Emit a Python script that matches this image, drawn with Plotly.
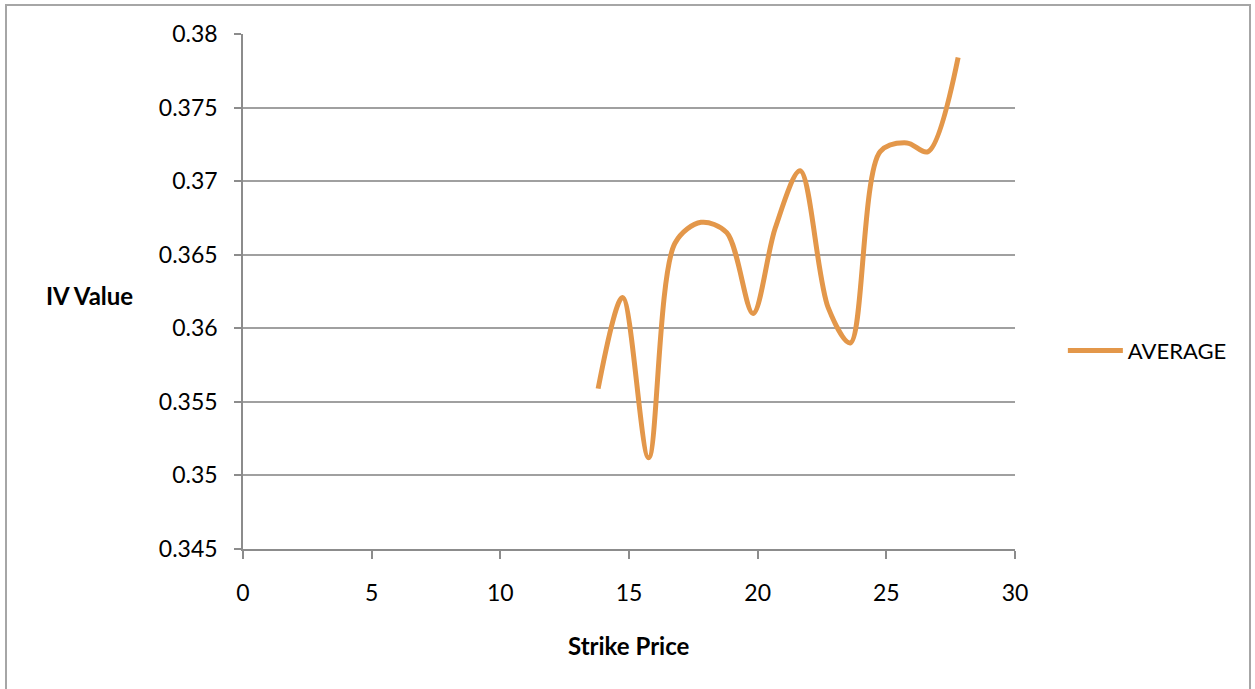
import plotly.graph_objects as go

strike = [13.8, 14.75, 15.76, 16.79, 17.8, 18.8, 19.82, 20.68, 21.65, 22.74, 23.6, 24.76, 25.8, 26.62, 27.79]
iv_avg = [0.3559, 0.3621, 0.3512, 0.3658, 0.3672, 0.3665, 0.3610, 0.3668, 0.3707, 0.3614, 0.3590, 0.3720, 0.3726, 0.3720, 0.3784]

x_ticks = [0, 5, 10, 15, 20, 25, 30]
y_ticks = [0.345, 0.35, 0.355, 0.36, 0.365, 0.37, 0.375, 0.38]
y_labels = ["0.345", "0.35", "0.355", "0.36", "0.365", "0.37", "0.375", "0.38"]

FONT = "Lato, Open Sans, sans-serif"

fig = go.Figure()
fig.add_trace(go.Scatter(
    x=strike, y=iv_avg, mode="lines", name="AVERAGE",
    line=dict(color="#E3974A", width=5, shape="spline", smoothing=0.9),
))

fig.update_layout(
    width=1255, height=689,
    margin=dict(l=243, r=240, t=34, b=140),
    paper_bgcolor="white", plot_bgcolor="white",
    font=dict(family=FONT, size=23, color="#000000"),
    showlegend=True,
    legend=dict(x=1.062, y=0.385, xanchor="left", yanchor="middle",
                font=dict(size=22, family=FONT), bgcolor="rgba(0,0,0,0)",
                itemwidth=55),
    xaxis=dict(range=[0, 30], tickvals=x_ticks, showgrid=False, zeroline=False,
               showline=True, linecolor="#8c8c8c", linewidth=1.5,
               ticks="outside", ticklen=8, tickcolor="#8c8c8c", tickwidth=1.5,
               ticklabelstandoff=15,
               tickfont=dict(size=23, family=FONT)),
    yaxis=dict(range=[0.345, 0.38], tickvals=y_ticks, ticktext=y_labels,
               showgrid=True, gridcolor="#a0a0a0", gridwidth=1.5, zeroline=False,
               showline=True, linecolor="#8c8c8c", linewidth=1.5,
               ticks="outside", ticklen=7, tickcolor="#8c8c8c", tickwidth=1.5,
               ticklabelstandoff=12,
               tickfont=dict(size=23, family=FONT)),
    annotations=[
        dict(text="<b>IV Value</b>", xref="paper", yref="paper",
             x=(89 - 243) / 772, y=(549 - 295) / 515,
             xanchor="center", yanchor="middle",
             showarrow=False, font=dict(size=24, family=FONT)),
        dict(text="<b>Strike Price</b>", xref="paper", yref="paper",
             x=(629 - 243) / 772, y=(549 - 645) / 515,
             xanchor="center", yanchor="middle",
             showarrow=False, font=dict(size=24, family=FONT)),
    ],
    shapes=[
        dict(type="rect", xref="paper", yref="paper",
             x0=(6 - 243) / 772, x1=(1250 - 243) / 772,
             y0=(549 - 700) / 515, y1=(549 - 5) / 515,
             line=dict(color="#a6a6a6", width=2), fillcolor="rgba(0,0,0,0)", layer="below"),
    ],
)

fig.write_html("out.html", config={"displayModeBar": False},
               post_script="document.body.style.margin='0';")
